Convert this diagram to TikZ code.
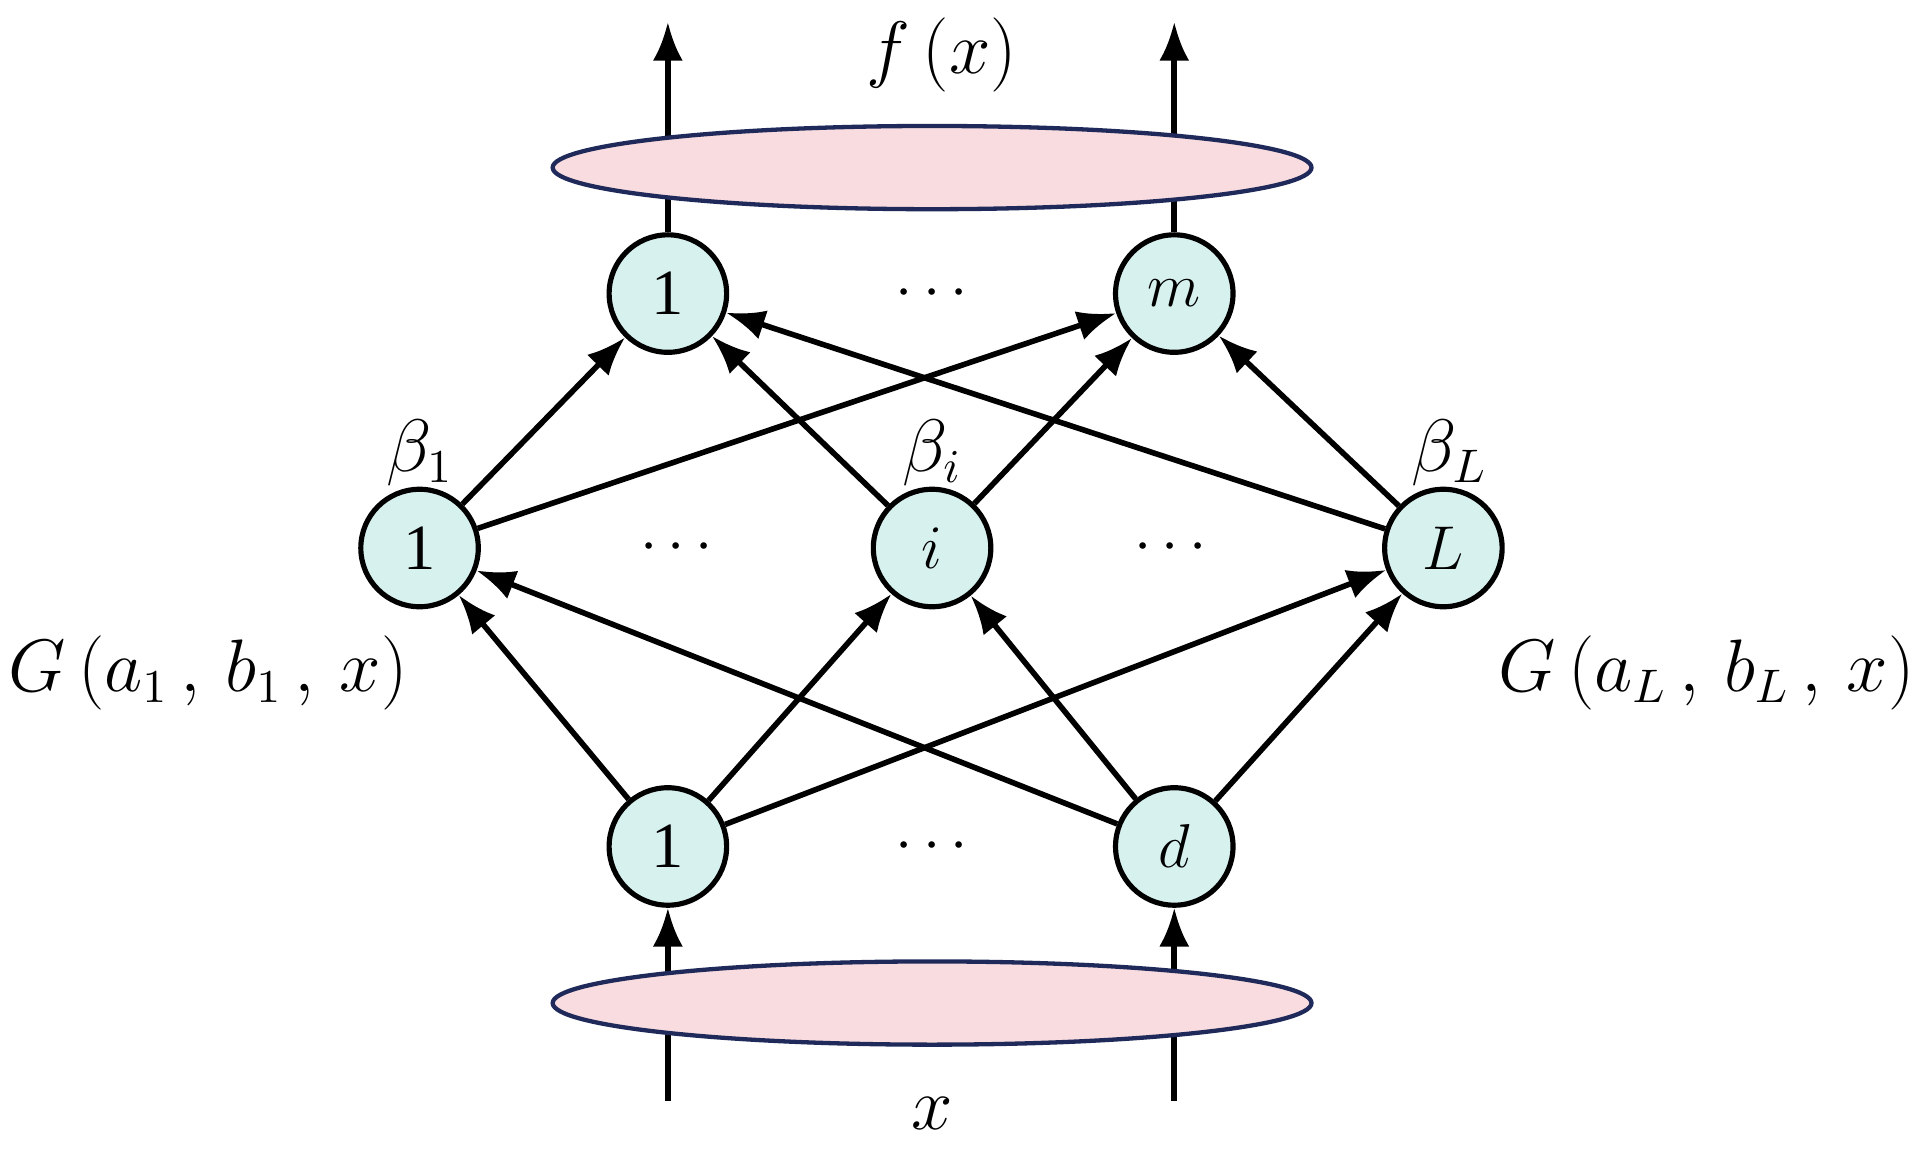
\documentclass[tikz,border=0pt]{standalone}
\usepackage{fontspec}
\setmainfont{Liberation Serif}
\usetikzlibrary{arrows.meta,shapes.geometric}
\definecolor{pinkf}{HTML}{F9DCE0}
\definecolor{cyanf}{HTML}{D6F1EE}
\definecolor{navy}{HTML}{1F2A5A}
\begin{document}
\begin{tikzpicture}[x=0.01cm,y=-0.01cm,
 neu/.style={circle,draw=black,line width=1.2pt,fill=cyanf,minimum size=0.96cm,inner sep=0pt,font=\fontsize{15}{17}\selectfont},
 ell/.style={ellipse,draw=navy,line width=1pt,fill=pinkf,minimum width=6.2cm,minimum height=0.68cm},
 arr/.style={-{Latex[length=9pt,width=7pt]},line width=1.3pt},
 lab/.style={font=\fontsize{16}{18}\selectfont},
 dots/.style={font=\fontsize{15}{17}\selectfont}]
\useasboundingbox (0,0) rectangle (1568,948);
% vertical arrows
\coordinate (t1) at (546,18);
\coordinate (t2) at (960,18);
\coordinate (b1) at (546,900);
\coordinate (b2) at (960,900);
\node[neu] (o1) at (546,240) {1};
\node[neu] (om) at (960,240) {$m$};
\node[neu] (h1) at (343,448) {1};
\node[neu] (hi) at (762,448) {$i$};
\node[neu] (hL) at (1180,448) {$L$};
\node[neu] (i1) at (546,692) {1};
\node[neu] (id) at (960,692) {$d$};
\draw[arr] (o1) -- (t1);
\draw[arr] (om) -- (t2);
\draw[arr] (b1) -- (i1);
\draw[arr] (b2) -- (id);
\node[ell] (top) at (762,137) {};
\node[ell] (bot) at (762,820) {};
\node[dots] (d1) at (762,240) {$\cdots$};
\node[dots] (d2) at (553,448) {$\cdots$};
\node[dots] (d3) at (957,448) {$\cdots$};
\node[dots] (d4) at (762,692) {$\cdots$};
\foreach \a in {i1,id}\foreach \b in {h1,hi,hL} \draw[arr] (\a) -- (\b);
\foreach \a in {h1,hi,hL}\foreach \b in {o1,om} \draw[arr] (\a) -- (\b);
\node[lab] (fx) at (770,45) {$f\,(x)$};
\node[lab] (x) at (762,910) {$x$};
\node[lab] (b1l) at (343,370) {$\beta_1$};
\node[lab] (bil) at (762,370) {$\beta_i$};
\node[lab] (bLl) at (1185,370) {$\beta_L$};
\node[lab] (G1) at (170,550) {$G\,(a_1\,,\,b_1\,,\,x)$};
\node[lab] (GL) at (1395,550) {$G\,(a_L\,,\,b_L\,,\,x)$};
\end{tikzpicture}
\end{document}
